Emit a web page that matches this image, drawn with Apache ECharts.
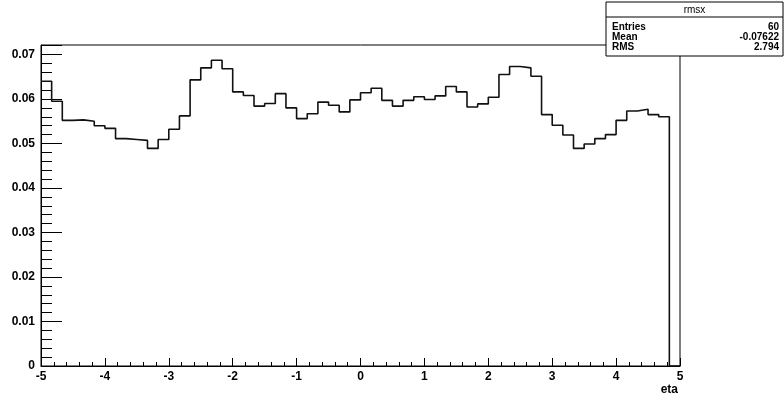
<!DOCTYPE html>
<html>
<head>
<meta charset="utf-8">
<script src="https://cdn.jsdelivr.net/npm/echarts@6/dist/echarts.min.js"></script>
<style>
  html, body { margin: 0; padding: 0; background: #fff; }
  #chart { width: 784px; height: 398px; }
</style>
</head>
<body>
<div id="chart"></div>
<script>
// histogram rmsx: 60 bins from -5 to 5
const binLow = -5;
const binHigh = 5;
const binContent = [
  0.0640, 0.0595, 0.0552, 0.0553, 0.0550, 0.0540, 0.0534, 0.0511, 0.0509, 0.0507,
  0.0489, 0.0509, 0.0532, 0.0562, 0.0643, 0.0670, 0.0687, 0.0668, 0.0616, 0.0608,
  0.0584, 0.0590, 0.0612, 0.0580, 0.0556, 0.0567, 0.0593, 0.0586, 0.0571, 0.0598,
  0.0614, 0.0624, 0.0597, 0.0584, 0.0597, 0.0605, 0.0599, 0.0607, 0.0628, 0.0616,
  0.0582, 0.0589, 0.0604, 0.0655, 0.0673, 0.0670, 0.0651, 0.0565, 0.0541, 0.0519,
  0.0489, 0.0499, 0.0511, 0.0520, 0.0552, 0.0573, 0.0577, 0.0565, 0.0560, 0
];
const statLabels = ["Entries", "Mean", "RMS"];
const statValues = ["60", "-0.07622", "2.794"];
const histTitle = "rmsx";
const xTitle = "eta";

const FONT = "'Liberation Sans', Arial, sans-serif";

// step points at bin edges
const nBins = binContent.length;
const width = (binHigh - binLow) / nBins;
const points = binContent.map((v, i) => [binLow + i * width, v]);
points.push([binHigh, binContent[nBins - 1]]);

const yMax = Math.max(...binContent) * 1.05;

const chart = echarts.init(document.getElementById("chart"), null, { renderer: "canvas" });

// stats box
const boxX = 606, boxY = 2, boxW = 177, boxH = 54;
const statGraphics = [
  { type: "rect", shape: { x: boxX, y: boxY, width: boxW, height: boxH },
    style: { fill: "#fff", stroke: "#000", lineWidth: 1 }, z: 100 },
  { type: "line", shape: { x1: boxX, y1: boxY + 15, x2: boxX + boxW, y2: boxY + 15 },
    style: { stroke: "#000", lineWidth: 1 }, z: 101 },
  { type: "text", x: boxX + boxW / 2, y: boxY + 8,
    style: { text: histTitle, font: "10px " + FONT, fill: "#000", align: "center", verticalAlign: "middle" }, z: 101 }
];
statLabels.forEach((lab, i) => {
  const y = boxY + 25 + i * 10;
  statGraphics.push({ type: "text", x: boxX + 6, y: y,
    style: { text: lab, font: "bold 10px " + FONT, fill: "#000", align: "left", verticalAlign: "middle" }, z: 101 });
  statGraphics.push({ type: "text", x: boxX + boxW - 4, y: y,
    style: { text: statValues[i], font: "bold 10px " + FONT, fill: "#000", align: "right", verticalAlign: "middle" }, z: 101 });
});

const option = {
  animation: false,
  backgroundColor: "#fff",
  grid: {
    left: 41, right: 104, top: 45, bottom: 32,
    show: true, borderColor: "#000", borderWidth: 1
  },
  xAxis: {
    type: "value",
    min: binLow, max: binHigh, interval: 1,
    name: xTitle,
    nameLocation: "end",
    nameGap: 0,
    nameTextStyle: { fontFamily: FONT, fontWeight: "bold", fontSize: 12, color: "#000",
      align: "right", verticalAlign: "top", padding: [18, 2, 0, 0] },
    axisLine: { show: true, onZero: false, lineStyle: { color: "#000", width: 1 } },
    axisTick: { show: true, inside: true, length: 8, lineStyle: { color: "#000" } },
    minorTick: { show: true, splitNumber: 5, length: 4, lineStyle: { color: "#000" } },
    axisLabel: { fontFamily: FONT, fontWeight: "bold", fontSize: 12, color: "#000", margin: 5 },
    splitLine: { show: false }
  },
  yAxis: {
    type: "value",
    min: 0, max: yMax, interval: 0.01,
    axisLine: { show: true, onZero: false, lineStyle: { color: "#000", width: 1 } },
    axisTick: { show: true, inside: true, length: 21, lineStyle: { color: "#000" } },
    minorTick: { show: true, splitNumber: 5, length: 11, lineStyle: { color: "#000" } },
    axisLabel: { fontFamily: FONT, fontWeight: "bold", fontSize: 12, color: "#000", margin: 6,
      showMaxLabel: false,
      formatter: (v) => (Math.round(v * 100) / 100).toString() },
    splitLine: { show: false }
  },
  series: [{
    name: histTitle,
    type: "line",
    step: "end",
    data: points,
    symbol: "none",
    lineStyle: { color: "#111", width: 1.6 },
    z: 5
  }],
  graphic: statGraphics
};

chart.setOption(option);
</script>
</body>
</html>
